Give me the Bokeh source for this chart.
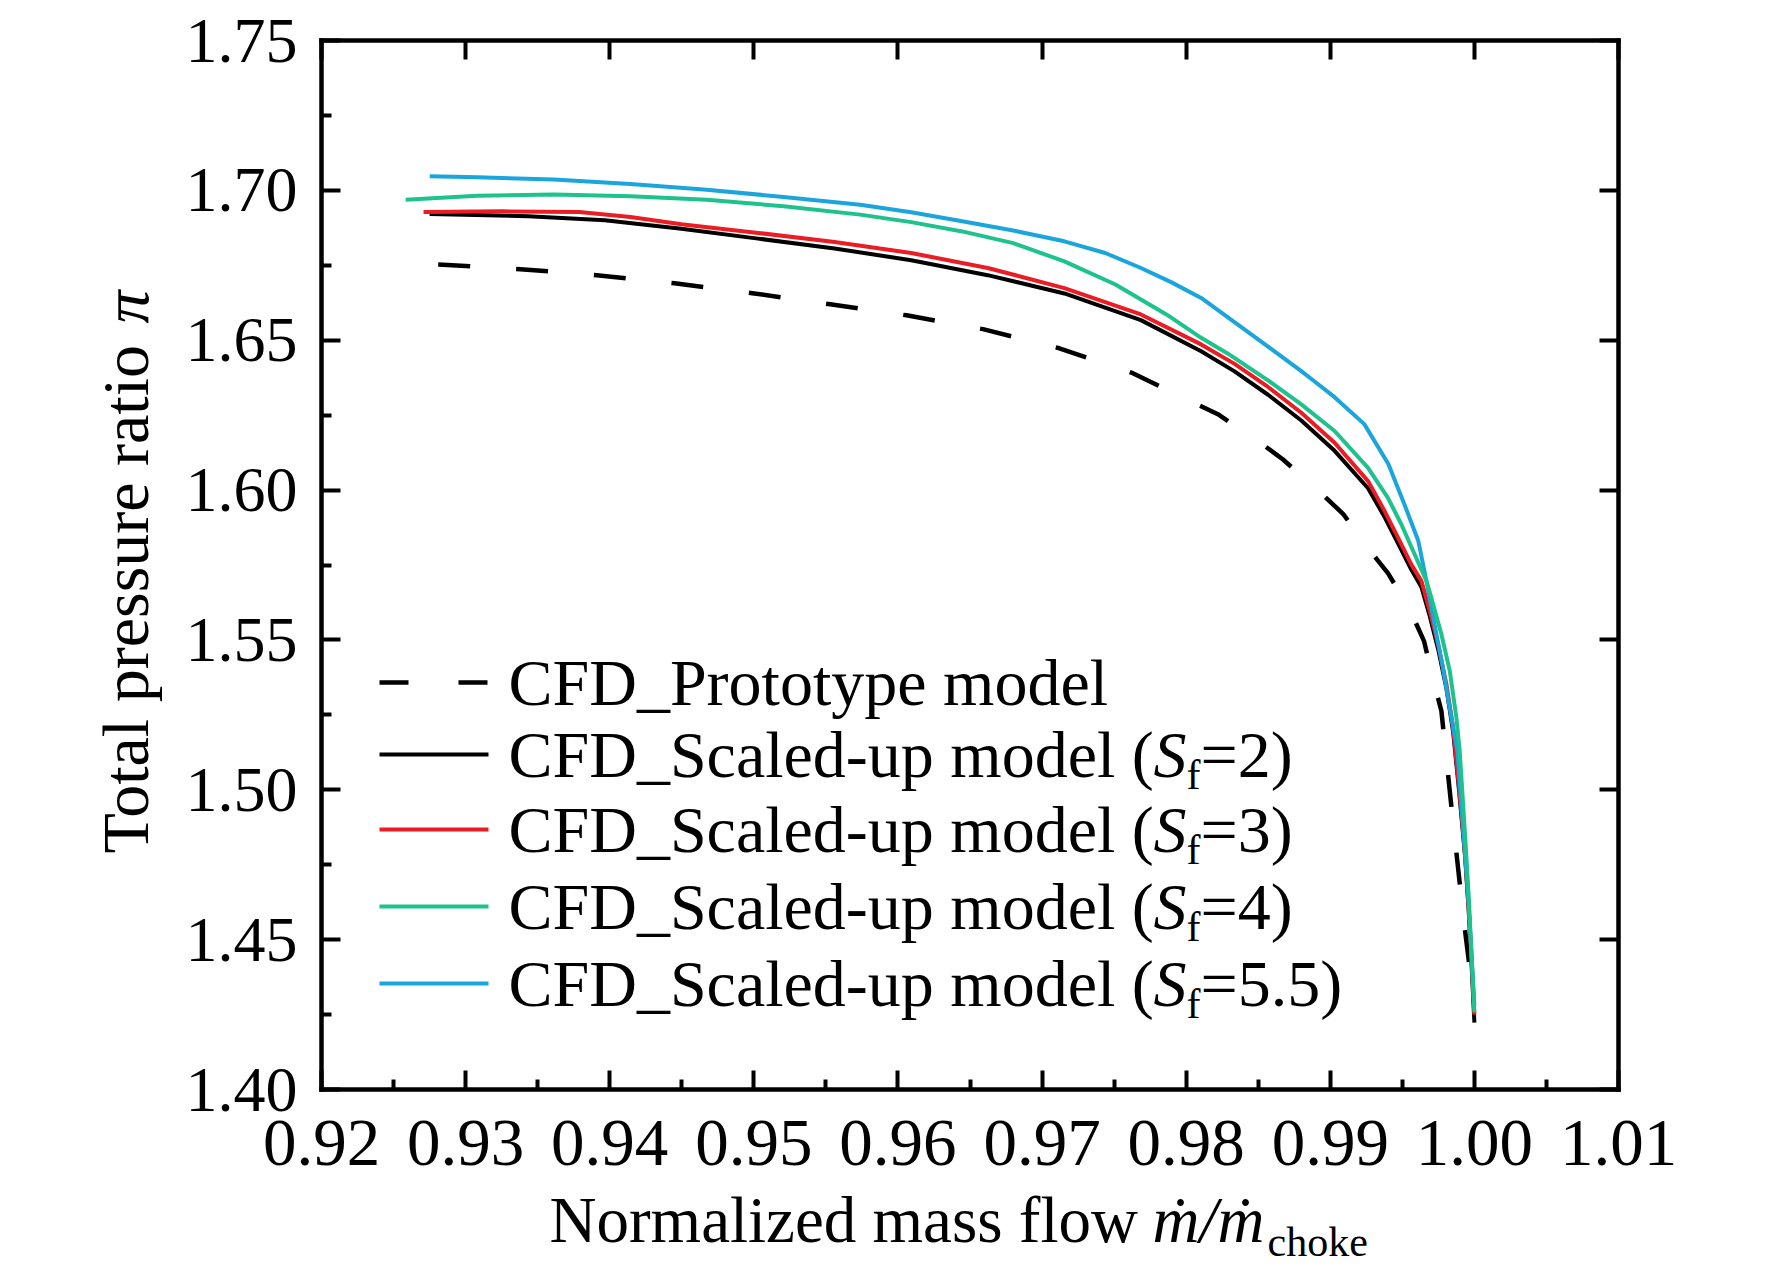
import numpy as np
from bokeh.plotting import figure
from bokeh.models import (FixedTicker, PrintfTickFormatter, LinearAxis, Label, Arrow,
                          CustomJSTickFormatter)
from bokeh.embed import file_html
from bokeh.resources import INLINE

# ---------------- data ----------------
x_ticks = [0.92, 0.93, 0.94, 0.95, 0.96, 0.97, 0.98, 0.99, 1.00, 1.01]
x_minor = [0.925, 0.935, 0.945, 0.955, 0.965, 0.975, 0.985, 0.995, 1.005]
y_ticks = [1.40, 1.45, 1.50, 1.55, 1.60, 1.65, 1.70, 1.75]
y_minor = [1.425, 1.475, 1.525, 1.575, 1.625, 1.675, 1.725]
x_lim = [0.92, 1.01]
y_lim = [1.40, 1.75]

proto_x = [0.9281, 0.9338, 0.9391, 0.9445, 0.9499, 0.9553, 0.9606, 0.9659, 0.9712, 0.9763,
           0.9803, 0.9822, 0.9850, 0.9867, 0.9892, 0.9909, 0.9926, 0.9940, 0.9955, 0.9965,
           0.99722, 0.99771, 0.9985, 0.9993, 1.0000]
proto_y = [1.6753, 1.6737, 1.6717, 1.6690, 1.6657, 1.6620, 1.6583, 1.6537, 1.6473, 1.6390,
           1.6297, 1.6253, 1.6163, 1.6103, 1.5997, 1.5920, 1.5807, 1.5723, 1.5603, 1.5497,
           1.5353, 1.5263, 1.4900, 1.4550, 1.4280]

sf2_x = [0.92750, 0.93435, 0.93966, 0.94497, 0.95029, 0.95560, 0.96092, 0.96623, 0.97155,
         0.97686, 0.98104, 0.98336, 0.98568, 0.98799, 0.99030, 0.99262, 0.99377, 0.99470,
         0.99562, 0.99632, 0.99690, 0.99748, 0.99806, 0.99852, 0.99895, 0.99935, 0.99960,
         0.99980, 1.00000]
sf2_y = [1.6921, 1.6914, 1.6900, 1.6872, 1.6839, 1.6806, 1.6767, 1.6717, 1.6656,
         1.6567, 1.6463, 1.6396, 1.6318, 1.6232, 1.6131, 1.6006, 1.5910, 1.5822,
         1.5735, 1.5677, 1.5580, 1.5470, 1.5338, 1.5195, 1.4990, 1.4780, 1.4600,
         1.4420, 1.4223]

sf3_x = [0.92708, 0.93257, 0.93789, 0.94143, 0.94497, 0.95029, 0.95560, 0.96092, 0.96623,
         0.97155, 0.97686, 0.98104, 0.98336, 0.98568, 0.98799, 0.99030, 0.99262, 0.99377,
         0.99470, 0.99562, 0.99632, 0.99690, 0.99748, 0.99806, 0.99852, 0.99895, 0.99935,
         0.99960, 0.99980, 1.00000]
sf3_y = [1.6928, 1.6930, 1.6928, 1.6911, 1.6887, 1.6858, 1.6828, 1.6791, 1.6741,
         1.6674, 1.6586, 1.6486, 1.6421, 1.6344, 1.6258, 1.6158, 1.6030, 1.5930,
         1.5841, 1.5752, 1.5697, 1.5597, 1.5486, 1.5352, 1.5208, 1.5000, 1.4790,
         1.4610, 1.4440, 1.4250]

sf4_x = [0.92584, 0.93080, 0.93612, 0.94143, 0.94674, 0.95206, 0.95738, 0.96092, 0.96446,
         0.96800, 0.97155, 0.97509, 0.97863, 0.98104, 0.98290, 0.98568, 0.98799, 0.99030,
         0.99262, 0.99400, 0.99493, 0.99585, 0.99667, 0.99701, 0.99771, 0.99829, 0.99875,
         0.99898, 0.99935, 0.99960, 0.99980, 1.00000]
sf4_y = [1.6969, 1.6982, 1.6986, 1.6980, 1.6969, 1.6947, 1.6919, 1.6894, 1.6863,
         1.6824, 1.6763, 1.6686, 1.6586, 1.6508, 1.6455, 1.6366, 1.6286, 1.6197,
         1.6074, 1.5974, 1.5886, 1.5786, 1.5697, 1.5641, 1.5519, 1.5397, 1.5241,
         1.5130, 1.4850, 1.4650, 1.4450, 1.4257]

sf55_x = [0.92751, 0.93080, 0.93612, 0.94143, 0.94674, 0.95206, 0.95738, 0.96092, 0.96446,
          0.96800, 0.97155, 0.97438, 0.97686, 0.97899, 0.98104, 0.98613, 0.98799, 0.98889,
          0.99030, 0.99236, 0.99403, 0.99514, 0.99611, 0.99667, 0.99720, 0.99780, 0.99830,
          0.99882, 0.99925, 0.99960, 0.99980, 1.00000]
sf55_y = [1.7047, 1.7044, 1.7036, 1.7021, 1.7002, 1.6978, 1.6952, 1.6927, 1.6897,
          1.6866, 1.6830, 1.6791, 1.6741, 1.6693, 1.6641, 1.6463, 1.6397, 1.6363,
          1.6310, 1.6220, 1.6087, 1.5953, 1.5830, 1.5697, 1.5560, 1.5410, 1.5270,
          1.5130, 1.4850, 1.4620, 1.4450, 1.4280]

series_names = ["CFD_Prototype model", "CFD_Scaled-up model (", "CFD_Scaled-up model (",
                "CFD_Scaled-up model (", "CFD_Scaled-up model ("]
sf_values = [None, "2", "3", "4", "5.5"]

x_title = "Normalized mass flow "
x_title_italic = "ṁ/ṁ"
x_title_sub = "choke"
y_title = "Total pressure ratio "
y_title_italic = "π"

# ---------------- layout (pixels in the picture) ----------------
W, H = 1756, 1263
BOX_L, BOX_R, BOX_T, BOX_B = 321, 1618, 40, 1089
FONT = "Liberation Serif"
colors = ["#000000", "#000000", "#ea1c24", "#1dc28c", "#1aa5dd"]
dashes = ["32 46", "solid", "solid", "solid", "solid"]
legend_dashes = ["29 50", "solid", "solid", "solid", "solid"]
AX_W = 4.5

def sx(X):
    return X

def sy(Y):
    return H - Y

xpp = (x_lim[1] - x_lim[0]) / (BOX_R - BOX_L)
ypp = (y_lim[1] - y_lim[0]) / (BOX_B - BOX_T)
x_range = (x_lim[0] - BOX_L * xpp, x_lim[1] + (W - BOX_R) * xpp)
y_range = (y_lim[0] - (H - BOX_B) * ypp, y_lim[1] + BOX_T * ypp)

p = figure(width=W, height=H, x_range=x_range, y_range=y_range,
           min_border=0, min_border_left=0, min_border_right=0,
           min_border_top=0, min_border_bottom=0,
           x_axis_location=None, y_axis_location=None,
           output_backend="svg", toolbar_location=None,
           background_fill_color="white", border_fill_color="white")
p.xgrid.visible = False
p.ygrid.visible = False
p.outline_line_color = None

def style_axis(ax, major_in, minor_in, standoff, size):
    ax.axis_line_width = AX_W
    ax.axis_line_color = "black"
    ax.axis_line_cap = "square"
    ax.major_tick_line_width = 4
    ax.minor_tick_line_width = 4
    ax.major_tick_in = major_in
    ax.major_tick_out = 0
    ax.minor_tick_in = minor_in
    ax.minor_tick_out = 0
    ax.major_label_text_font = FONT
    ax.major_label_text_font_size = size
    ax.major_label_text_color = "black"
    ax.major_label_standoff = standoff

bottom = LinearAxis(ticker=FixedTicker(ticks=x_ticks, minor_ticks=x_minor),
                    formatter=PrintfTickFormatter(format="%.2f"),
                    fixed_location=y_lim[0], bounds=tuple(x_lim))
style_axis(bottom, 19, 10, 31, "67px")
p.add_layout(bottom, "below")

left = LinearAxis(ticker=FixedTicker(ticks=y_ticks, minor_ticks=y_minor),
                  formatter=PrintfTickFormatter(format="%.2f"),
                  fixed_location=x_lim[0], bounds=tuple(y_lim))
style_axis(left, 19, 10, 24, "64px")
p.add_layout(left, "left")

top = LinearAxis(ticker=FixedTicker(ticks=x_ticks),
                 formatter=CustomJSTickFormatter(code="return ''"),
                 fixed_location=y_lim[1], bounds=tuple(x_lim))
style_axis(top, 19, 0, 0, "1px")
p.add_layout(top, "above")

right = LinearAxis(ticker=FixedTicker(ticks=y_ticks),
                   formatter=CustomJSTickFormatter(code="return ''"),
                   fixed_location=x_lim[1], bounds=tuple(y_lim))
style_axis(right, 19, 0, 0, "1px")
p.add_layout(right, "right")

# ---------------- curves ----------------
curves = [(proto_x, proto_y, 0), (sf2_x, sf2_y, 1), (sf3_x, sf3_y, 2),
          (sf55_x, sf55_y, 4), (sf4_x, sf4_y, 3)]
for xs, ys, i in curves:
    w = 4.5 if i == 0 else 4
    p.line(xs, ys, line_color=colors[i], line_width=w, line_dash=dashes[i],
           line_join="round")

# ---------------- legend ----------------
row_Y = [682, 754, 829, 906, 983]
LX0, LX1, TX = 379, 488, 508

def label(X, Y, text, size="66px", style="normal", angle=0.0):
    p.add_layout(Label(x=sx(X), y=sy(Y), x_units="screen", y_units="screen",
                       text=text, text_font=FONT, text_font_size=size,
                       text_font_style=style, text_color="black", angle=angle,
                       text_align="left", text_baseline="middle"))

for i in range(5):
    p.add_layout(Arrow(end=None, start=None,
                       x_start=sx(LX0), y_start=sy(row_Y[i]), x_end=sx(LX1), y_end=sy(row_Y[i]),
                       start_units="screen", end_units="screen",
                       line_color=colors[i], line_width=4.5 if i == 0 else 4,
                       line_dash=legend_dashes[i]))
    label(TX, row_Y[i], series_names[i])
    if sf_values[i] is not None:
        label(TX + 645, row_Y[i], "S", style="italic")
        label(TX + 678, row_Y[i] + 20, "f", size="42px")
        label(TX + 692, row_Y[i], "=" + sf_values[i] + ")")

# ---------------- axis titles ----------------
label(549, 1219, x_title, size="65px")
label(1152, 1219, x_title_italic, size="65px", style="italic")
label(1267, 1241, x_title_sub, size="42px")

label(125, 853, y_title, size="66px", angle=np.pi / 2)
label(125, 323, y_title_italic, size="66px", style="italic", angle=np.pi / 2)

open("out.html", "w").write(file_html(p, INLINE))
